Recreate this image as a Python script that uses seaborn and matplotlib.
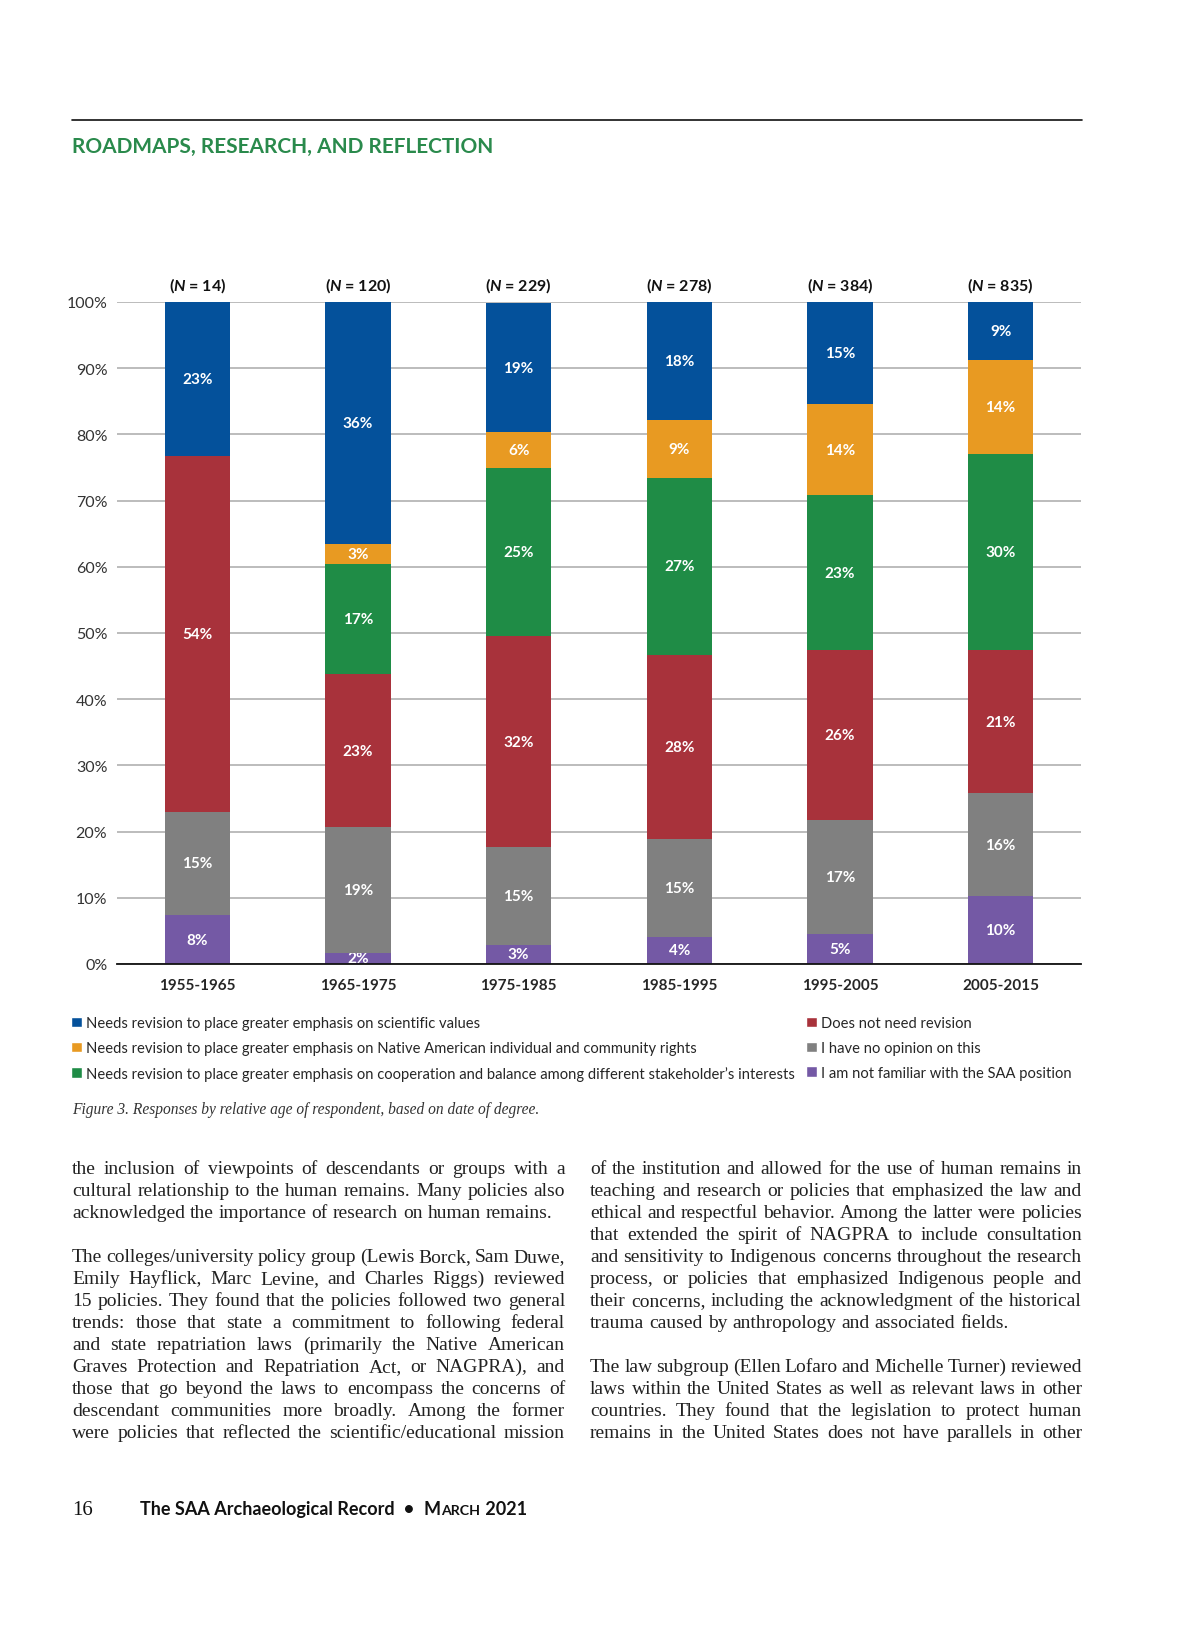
import numpy as np
import pandas as pd
import seaborn as sns
import matplotlib.pyplot as plt
from matplotlib.patches import Patch

# ---- data (percent of respondents) ----
periods = ['1955-1965', '1965-1975', '1975-1985', '1985-1995', '1995-2005', '2005-2015']
n_resp = [14, 120, 229, 278, 384, 835]

sci = [23.3, 36.6, 19.6, 17.8, 15.4, 8.8]
native = [0.0, 3.0, 5.4, 8.8, 13.8, 14.2]
coop = [0.0, 16.6, 25.4, 26.7, 23.4, 29.6]
no_rev = [53.7, 23.1, 31.8, 27.8, 25.6, 21.6]
no_opin = [15.6, 19.0, 14.8, 14.8, 17.3, 15.5]
not_fam = [7.4, 1.7, 2.9, 4.1, 4.5, 10.3]

# printed labels
sci_lbl = [23, 36, 19, 18, 15, 9]
native_lbl = [None, 3, 6, 9, 14, 14]
coop_lbl = [None, 17, 25, 27, 23, 30]
no_rev_lbl = [54, 23, 32, 28, 26, 21]
no_opin_lbl = [15, 19, 15, 15, 17, 16]
not_fam_lbl = [8, 2, 3, 4, 5, 10]

cats = ["Needs revision to place greater emphasis on scientific values",
        "Needs revision to place greater emphasis on Native American individual and community rights",
        "Needs revision to place greater emphasis on cooperation and balance among different stakeholder\u2019s interests",
        "Does not need revision",
        "I have no opinion on this",
        "I am not familiar with the SAA position"]
colors = ['#04519b', '#e89a22', '#1f8c46', '#a8323b', '#808080', '#7459a5']

W, H = 1200, 1631
sns.set_style('white')
plt.rcParams['font.family'] = ['Lato', 'DejaVu Sans']
plt.rcParams['mathtext.fontset'] = 'custom'
plt.rcParams['mathtext.it'] = 'Lato:italic:bold'

fig = plt.figure(figsize=(12, 16.31), dpi=100)
ax = fig.add_axes([117 / W, 1 - 965 / H, 964 / W, 662 / H])

# stack from the bottom up
layers = [(not_fam, not_fam_lbl, 5), (no_opin, no_opin_lbl, 4), (no_rev, no_rev_lbl, 3),
          (coop, coop_lbl, 2), (native, native_lbl, 1), (sci, sci_lbl, 0)]
bottom = np.zeros(len(periods))
for vals, lbls, ci in layers:
    df = pd.DataFrame({'period': periods, 'pct': vals})
    sns.barplot(data=df, x='period', y='pct', order=periods, color=colors[ci],
                saturation=1, width=0.405, bottom=bottom, linewidth=0, ax=ax, zorder=3)
    cont = ax.containers[-1]
    ax.bar_label(cont, labels=['' if l is None else f'{l}%' for l in lbls],
                 label_type='center', color='white', fontsize=11, fontweight='bold')
    bottom = bottom + np.array(vals)

ax.set_ylim(0, 100)
ax.set_xlim(-0.5, 5.5)
ax.set_yticks(range(0, 101, 10))
ax.set_yticklabels([f'{v}%' for v in range(0, 101, 10)], fontsize=11.5, color='#333333')
ax.tick_params(axis='y', length=0, pad=7)
ax.tick_params(axis='x', length=0, pad=10, labelsize=11)
for lab in ax.get_xticklabels():
    lab.set_fontweight('bold')
ax.set_xlabel('')
ax.set_ylabel('')
ax.yaxis.grid(True, color='#aaaaaa', linewidth=1.1, zorder=0)
ax.set_axisbelow(True)
for s in ['top', 'right', 'left']:
    ax.spines[s].set_visible(False)
ax.spines['bottom'].set_color('#111111')
ax.spines['bottom'].set_linewidth(1.3)
ax.spines['bottom'].set_zorder(5)

for i, n in enumerate(n_resp):
    ax.text(i, 101.2, f'($N$ = {n})', ha='center', va='bottom', fontsize=11.5, fontweight='bold',
            color='#111111')

# legend
handles = [Patch(facecolor=colors[i], label=cats[i]) for i in range(6)]
fig.legend(handles=handles, loc='upper left', bbox_to_anchor=(71 / W, 1 - 1017 / H), ncol=2,
           frameon=False, fontsize=10.6, handlelength=0.72, handleheight=0.72, handletextpad=0.3,
           columnspacing=0.75, labelspacing=0.74, borderpad=0, borderaxespad=0)

# page furniture
fig.add_artist(plt.Line2D([72 / W, 1082 / W], [1 - 121 / H, 1 - 121 / H], color='#111111', linewidth=1.2))
fig.text(72 / W, 1 - 153 / H, 'ROADMAPS, RESEARCH, AND REFLECTION', color='#2a8a4c',
         fontsize=15, fontweight='bold', va='baseline')
fig.text(72 / W, 1 - 1114 / H, 'Figure 3. Responses by relative age of respondent, based on date of degree.',
         family='Liberation Serif', style='italic', fontsize=11.2, color='#333333', va='baseline')

col1 = ["the inclusion of viewpoints of descendants or groups with a",
        "cultural relationship to the human remains. Many policies also",
        "acknowledged the importance of research on human remains.",
        "",
        "The colleges/university policy group (Lewis Borck, Sam Duwe,",
        "Emily Hayflick, Marc Levine, and Charles Riggs) reviewed",
        "15 policies. They found that the policies followed two general",
        "trends: those that state a commitment to following federal",
        "and state repatriation laws (primarily the Native American",
        "Graves Protection and Repatriation Act, or NAGPRA), and",
        "those that go beyond the laws to encompass the concerns of",
        "descendant communities more broadly. Among the former",
        "were policies that reflected the scientific/educational mission"]
col2 = ["of the institution and allowed for the use of human remains in",
        "teaching and research or policies that emphasized the law and",
        "ethical and respectful behavior. Among the latter were policies",
        "that extended the spirit of NAGPRA to include consultation",
        "and sensitivity to Indigenous concerns throughout the research",
        "process, or policies that emphasized Indigenous people and",
        "their concerns, including the acknowledgment of the historical",
        "trauma caused by anthropology and associated fields.",
        "",
        "The law subgroup (Ellen Lofaro and Michelle Turner) reviewed",
        "laws within the United States as well as relevant laws in other",
        "countries. They found that the legislation to protect human",
        "remains in the United States does not have parallels in other"]

body = dict(family='Liberation Serif', fontsize=14, color='#222222', va='baseline')
rend = fig.canvas.get_renderer()


def put_line(line, x0, x1, y, justify):
    words = line.split()
    texts = [fig.text(0, 1 - y / H, w, **body) for w in words]
    widths = [t.get_window_extent(rend).width for t in texts]
    if justify and len(words) > 1:
        gap = (x1 - x0 - sum(widths)) / (len(words) - 1)
    else:
        gap = 5.0
    x = x0
    for t, w in zip(texts, widths):
        t.set_x(x / W)
        x += w + gap


for col, (x0, x1) in [(col1, (72, 565)), (col2, (590, 1082))]:
    for i, line in enumerate(col):
        if not line:
            continue
        last = i + 1 < len(col) and col[i + 1] == ''
        put_line(line, x0, x1, 1174 + 22 * i, not last)

# footer, pieces laid out one after another
fig.text(72 / W, 1 - 1515 / H, '16', family='Liberation Serif', fontsize=15, color='#111111', va='baseline')
x = 140
for txt, size in [('The SAA Archaeological Record', 13), ('  \u2022  ', 13), ('M', 13), ('ARCH', 10.2), (' 2021', 13)]:
    t = fig.text(x / W, 1 - 1515 / H, txt, fontsize=size, fontweight='bold', color='#111111', va='baseline')
    x += t.get_window_extent(rend).width + 0.5

fig.savefig('out.png', dpi=100)
